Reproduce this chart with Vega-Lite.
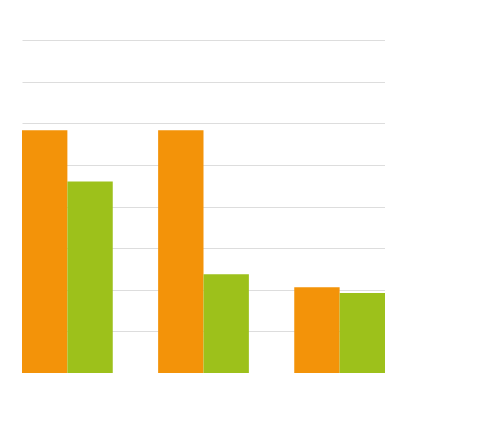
{
  "$schema": "https://vega.github.io/schema/vega-lite/v6.json",
  "width": 363,
  "height": 333,
  "autosize": {"type": "none"},
  "padding": {"left": 22, "top": 40, "right": 0, "bottom": 0},
  "config": {"view": {"stroke": null}, "font": "Open Sans"},
  "data": {
    "values": [
      {"categorie": "Privé", "annee": "2002", "valeur": 58300},
      {"categorie": "Privé", "annee": "2012", "valeur": 46000},
      {"categorie": "Coutumier", "annee": "2002", "valeur": 58300},
      {"categorie": "Coutumier", "annee": "2012", "valeur": 23700},
      {"categorie": "Domanial", "annee": "2002", "valeur": 20600},
      {"categorie": "Domanial", "annee": "2012", "valeur": 19200}
    ]
  },
  "transform": [{"calculate": "datum.categorie + '|' + datum.annee", "as": "slot"}],
  "mark": {"type": "bar"},
  "encoding": {
    "x": {
      "field": "slot",
      "type": "nominal",
      "scale": {
        "domain": ["Privé|2002", "Privé|2012", "_a", "Coutumier|2002", "Coutumier|2012", "_b", "Domanial|2002", "Domanial|2012"],
        "paddingInner": 0,
        "paddingOuter": 0
      },
      "axis": {"orient": "bottom", "title": null, "tickBand": "extent", "labelAngle": 0}
    },
    "y": {
      "field": "valeur",
      "type": "quantitative",
      "scale": {"domain": [0, 80000]},
      "axis": {"orient": "right", "title": "ha"}
    },
    "color": {
      "field": "annee",
      "type": "nominal",
      "scale": {"domain": ["2002", "2012"], "range": ["#F39309", "#9DC11B"]},
      "legend": null
    }
  }
}
